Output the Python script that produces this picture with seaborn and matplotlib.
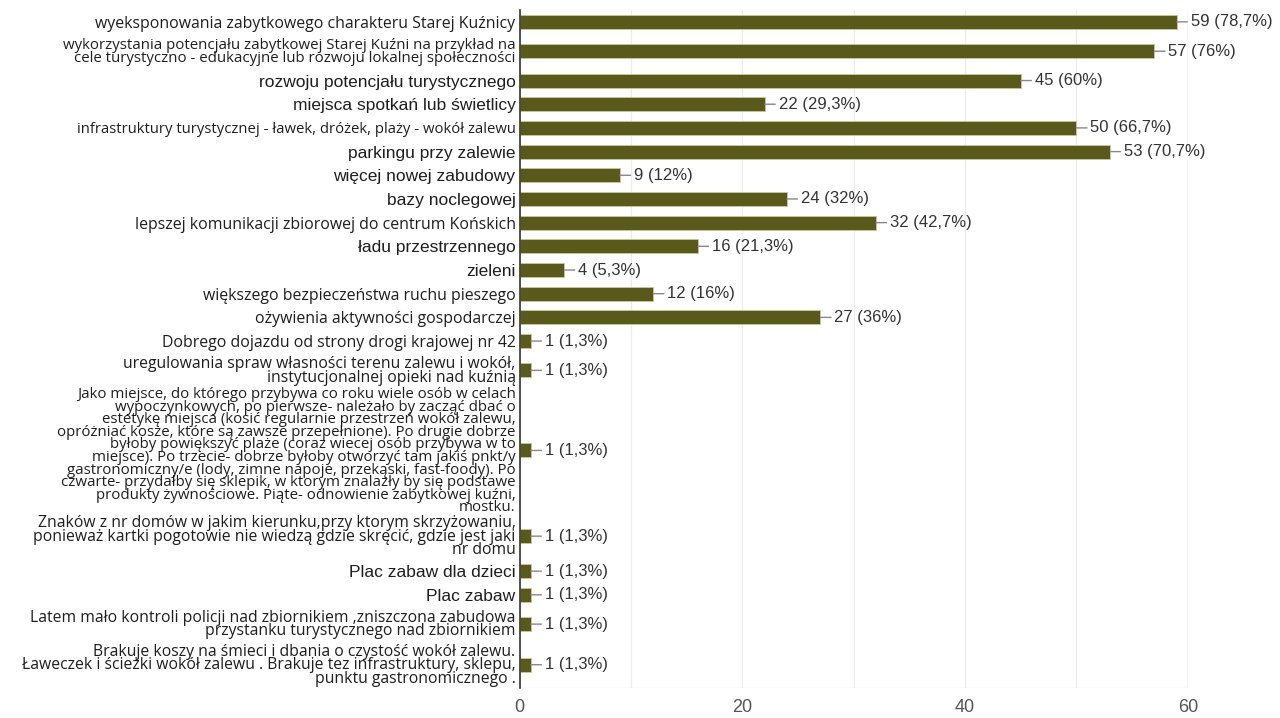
import pandas as pd
import matplotlib.pyplot as plt
import seaborn as sns

# --- Dane
odpowiedzi = [
    "wyeksponowania zabytkowego charakteru Starej Kuźnicy",
    "wykorzystania potencjału zabytkowej Starej Kuźni na przykład na\n"
    "cele turystyczno - edukacyjne lub rozwoju lokalnej społeczności",
    "rozwoju potencjału turystycznego",
    "miejsca spotkań lub świetlicy",
    "infrastruktury turystycznej - ławek, dróżek, plaży - wokół zalewu",
    "parkingu przy zalewie",
    "więcej nowej zabudowy",
    "bazy noclegowej",
    "lepszej komunikacji zbiorowej do centrum Końskich",
    "ładu przestrzennego",
    "zieleni",
    "większego bezpieczeństwa ruchu pieszego",
    "ożywienia aktywności gospodarczej",
    "Dobrego dojazdu od strony drogi krajowej nr 42",
    "uregulowania spraw własności terenu zalewu i wokół,\n"
    "instytucjonalnej opieki nad kuźnią",
    "Jako miejsce, do którego przybywa co roku wiele osób w celach\n"
    "wypoczynkowych, po pierwsze- należało by zacząć dbać o\n"
    "estetykę miejsca (kosić regularnie przestrzeń wokół zalewu,\n"
    "opróżniać kosze, które są zawsze przepełnione). Po drugie dobrze\n"
    "byłoby powiększyć plaże (coraz wiecej osób przybywa w to\n"
    "miejsce). Po trzecie- dobrze byłoby otworzyć tam jakiś pnkt/y\n"
    "gastronomiczny/e (lody, zimne napoje, przekąski, fast-foody). Po\n"
    "czwarte- przydałby się sklepik, w ktorym znalazły by się podstawe\n"
    "produkty żywnościowe. Piąte- odnowienie zabytkowej kuźni,\n"
    "mostku.",
    "Znaków z nr domów w jakim kierunku,przy ktorym skrzyżowaniu,\n"
    "ponieważ kartki pogotowie nie wiedzą gdzie skręcić, gdzie jest jaki\n"
    "nr domu",
    "Plac zabaw dla dzieci",
    "Plac zabaw",
    "Latem mało kontroli policji nad zbiornikiem ,zniszczona zabudowa\n"
    "przystanku turystycznego nad zbiornikiem",
    "Brakuje koszy na śmieci i dbania o czystość wokół zalewu.\n"
    "Ławeczek i ścieżki wokół zalewu . Brakuje tez infrastruktury, sklepu,\n"
    "punktu gastronomicznego .",
]
liczba = [59, 57, 45, 22, 50, 53, 9, 24, 32, 16, 4, 12, 27,
          1, 1, 1, 1, 1, 1, 1, 1]
procent = [78.7, 76, 60, 29.3, 66.7, 70.7, 12, 32, 42.7, 21.3, 5.3, 16, 36,
           1.3, 1.3, 1.3, 1.3, 1.3, 1.3, 1.3, 1.3]

# etykiety pisane innym krojem (jak w oryginale)
arial = {2, 3, 5, 6, 7, 9, 10, 17, 18}
mniejsze = {1, 4, 15}

# --- Pozycje wierszy: wysokosc zalezy od liczby linii etykiety
linie = [t.count("\n") + 1 for t in odpowiedzi]
wys = [1.1 + n for n in linie]
srodki = []
acc = 0
for h in wys:
    srodki.append(acc + h / 2)
    acc += h
total = acc

df = pd.DataFrame({"odp": odpowiedzi, "n": liczba, "y": srodki})

sns.set_style("white")
fig = plt.figure(figsize=(12.8, 7.18), dpi=100)
ax = fig.add_axes([0.406, 0.042, 0.522, 0.944])

KOLOR = "#58591a"
sns.barplot(data=df, x="n", y="y", orient="y", native_scale=True,
            color=KOLOR, saturation=1, width=0.59,
            edgecolor="#c9c79a", linewidth=0.6, ax=ax)

ax.set_xlim(0, 60)
ax.set_ylim(total, 0)
ax.set_xticks([0, 20, 40, 60])
ax.set_xticks([10, 30, 50], minor=True)
ax.grid(axis="x", which="both", color="#ececec", lw=0.9)
ax.set_axisbelow(True)
ax.tick_params(axis="both", which="both", length=0)
for lab in ax.get_xticklabels():
    lab.set_fontfamily("Liberation Sans")
    lab.set_fontsize(13)
    lab.set_color("#555555")
ax.tick_params(axis="x", pad=8)

ax.set_yticks(srodki)
ax.set_yticklabels(odpowiedzi)
ax.tick_params(axis="y", pad=3)
for i, lab in enumerate(ax.get_yticklabels()):
    lab.set_color("#1e1e1e")
    if i in arial:
        lab.set_fontfamily("Liberation Sans")
        lab.set_fontsize(12.5)
    elif linie[i] == 1:
        lab.set_fontfamily("Open Sans")
        lab.set_fontsize(10.7 if i in mniejsze else 11.4)
    else:
        lab.set_fontfamily("Open Sans")
        lab.set_fontsize(10.8 if i in mniejsze else 11.3)
        lab.set_linespacing(0.78)

ax.set_xlabel("")
ax.set_ylabel("")

for s in ["top", "right", "bottom"]:
    ax.spines[s].set_visible(False)
ax.spines["left"].set_color("#333333")
ax.spines["left"].set_linewidth(1.2)
ax.axhline(total, color="#e4e4e4", lw=0.9)
ax.axvline(60, color="#e4e4e4", lw=0.9)

# --- Etykiety wartosci z kreska
for v, p, y in zip(liczba, procent, srodki):
    ps = f"{p:g}".replace(".", ",")
    ax.annotate(f"{v} ({ps}%)", xy=(v, y), xytext=(10, 0),
                textcoords="offset points", ha="left", va="center",
                fontsize=12, family="Liberation Sans", color="#333333",
                arrowprops=dict(arrowstyle="-", color="#888888", lw=1,
                                shrinkA=0, shrinkB=0),
                annotation_clip=False)

fig.savefig("out.png", dpi=100)
